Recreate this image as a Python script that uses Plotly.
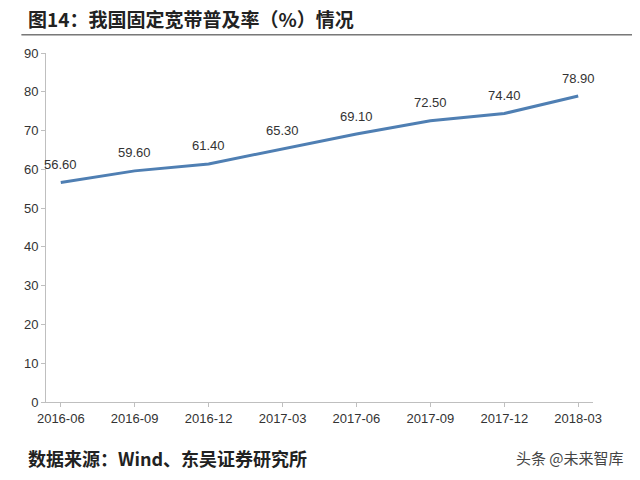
import plotly.graph_objects as go

categories = ["2016-06","2016-09","2016-12","2017-03","2017-06","2017-09","2017-12","2018-03"]
values = [56.6, 59.6, 61.4, 65.3, 69.1, 72.5, 74.4, 78.9]
labels = [f"{v:.2f}" for v in values]

fig = go.Figure(go.Scatter(
    x=list(range(len(categories))), y=values, mode="lines",
    line=dict(color="#4f7fb3", width=3),
))
ann = [dict(x=i, y=v, text=t, showarrow=False, yshift=18, xref="x", yref="y",
            font=dict(family="Liberation Sans, Arial", size=13, color="#333333"))
       for i, (v, t) in enumerate(zip(values, labels))]
ann += [
    dict(text="<b>图14：我国固定宽带普及率（%）情况</b>", xref="paper", yref="paper",
         x=-0.037, y=1.10, xanchor="left", yanchor="middle", showarrow=False,
         font=dict(family="Noto Sans CJK SC", size=19, color="#222222")),
    dict(text="<b>数据来源：Wind、东吴证券研究所</b>", xref="paper", yref="paper",
         x=-0.037, y=-0.16, xanchor="left", yanchor="middle", showarrow=False,
         font=dict(family="Noto Sans CJK SC", size=18, color="#222222")),
    dict(text="头条 @未来智库", xref="paper", yref="paper",
         x=1.06, y=-0.16, xanchor="right", yanchor="middle", showarrow=False,
         font=dict(family="Noto Sans CJK SC", size=15, color="#444444")),
]
fig.update_layout(
    width=640, height=480, showlegend=False,
    plot_bgcolor="white", paper_bgcolor="white",
    margin=dict(l=38, r=55, t=45, b=86),
    xaxis=dict(range=[-0.2, 7.2], tickvals=list(range(len(categories))), ticktext=categories,
               automargin=False,
               showgrid=False, zeroline=False, showline=True, linecolor="#bfbfbf",
               ticks="outside", ticklen=4, tickcolor="#bfbfbf",
               tickfont=dict(family="Liberation Sans, Arial", size=13, color="#333333")),
    yaxis=dict(range=[0, 90], dtick=10, showgrid=False, zeroline=False, showline=True,
               automargin=False,
               linecolor="#bfbfbf", ticks="outside", ticklen=4, tickcolor="#bfbfbf",
               tickfont=dict(family="Liberation Sans, Arial", size=13, color="#333333")),
    shapes=[dict(type="line", xref="paper", yref="paper", x0=-0.045, x1=1.09, y0=1.052, y1=1.052,
                 line=dict(color="#333333", width=1))],
    annotations=ann,
)
fig.write_html("out.html")
